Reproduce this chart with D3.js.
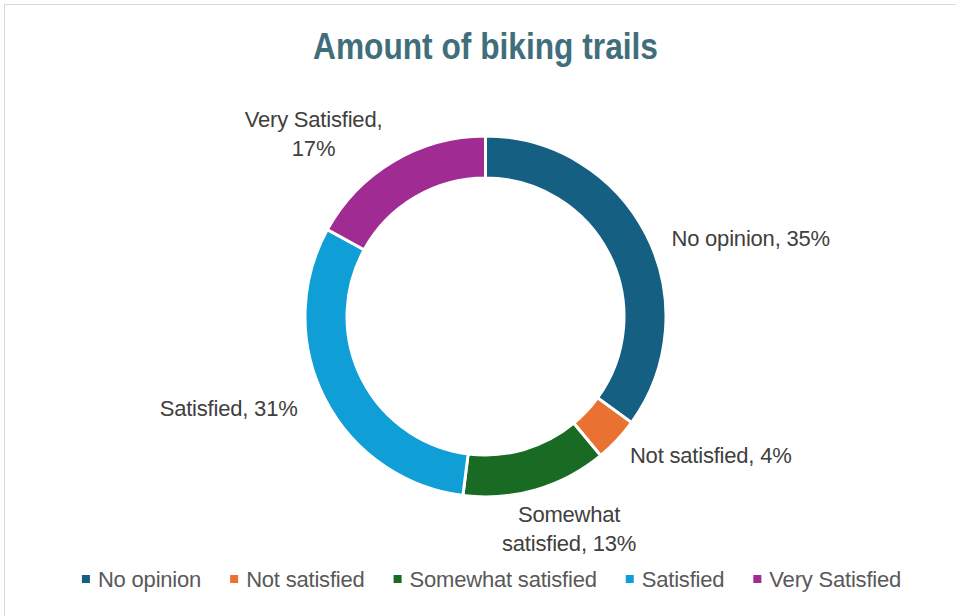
<!DOCTYPE html>
<html><head><meta charset="utf-8">
<script src="https://cdn.jsdelivr.net/npm/d3@7"></script>
<style>
html,body{margin:0;padding:0;background:#fff;}
svg{display:block;font-family:"Liberation Sans",Arial,sans-serif;}
</style></head>
<body>
<svg id="c" width="956" height="616"></svg>
<script>
const title = "Amount of biking trails";
const categories = ["No opinion","Not satisfied","Somewhat satisfied","Satisfied","Very Satisfied"];
const values = [35, 4, 13, 31, 17];
const colors = ["#156082","#E97132","#196B24","#0F9ED5","#A02B93"];
const labelLines = [["No opinion, 35%"],["Not satisfied, 4%"],["Somewhat","satisfied, 13%"],["Satisfied, 31%"],["Very Satisfied,","17%"]];

const svg = d3.select("#c");
svg.append("rect").attr("x",4.5).attr("y",4.5).attr("width",970).attr("height",640)
  .attr("fill","#fff").attr("stroke","#d9d9d9").attr("stroke-width",1);

svg.append("text").attr("x",485.5).attr("y",59).attr("text-anchor","middle")
  .attr("font-size",36).attr("font-weight","bold").attr("fill","#406e7a")
  .attr("textLength",345).attr("lengthAdjust","spacingAndGlyphs")
  .text(title);

const cx = 485.5, cy = 316.5, rOut = 180.5, rIn = 138.5;
const pie = d3.pie().sort(null).value(d=>d)(values);
const arc = d3.arc().innerRadius(rIn).outerRadius(rOut);
const g = svg.append("g").attr("transform",`translate(${cx},${cy})`);
g.selectAll("path").data(pie).join("path")
  .attr("d",arc).attr("fill",(d,i)=>colors[i])
  .attr("stroke","#fff").attr("stroke-width",3).attr("stroke-linejoin","miter");

// data label placement: along radial direction outside the ring
const labelR = rOut + 8;
const anchors = ["start","start","middle","end","middle"];
const offsets = [[18, 8],[ 7, 10],[31, 31],[-20, 6],[-76, -20]];
const lineH = 29;
pie.forEach((d,i)=>{
  const a = (d.startAngle+d.endAngle)/2;
  const x = cx + Math.sin(a)*labelR + offsets[i][0];
  const y = cy - Math.cos(a)*labelR + offsets[i][1];
  const t = svg.append("text").attr("text-anchor",anchors[i])
    .attr("font-size",22).attr("letter-spacing",-0.2).attr("fill","#404040");
  const lines = labelLines[i];
  lines.forEach((s,k)=>{
    t.append("tspan").attr("x",x).attr("y",y + (k-(lines.length-1)/2)*lineH + 7.5).text(s);
  });
});

// legend
const lg = svg.append("g");
let xpos = 0;
const gap = 29;
categories.forEach((c,i)=>{
  const it = lg.append("g");
  it.append("rect").attr("x",0).attr("y",-4).attr("width",8).attr("height",8).attr("fill",colors[i]);
  const tx = it.append("text").attr("x",16).attr("y",7.5).attr("font-size",22).attr("letter-spacing",-0.2)
    .attr("fill","#595959").text(c);
  const w = 16 + tx.node().getComputedTextLength();
  it.attr("transform",`translate(${xpos},0)`);
  xpos += w + gap;
});
const total = xpos - gap;
lg.attr("transform",`translate(${491.5 - total/2},579)`);
</script>
</body></html>
